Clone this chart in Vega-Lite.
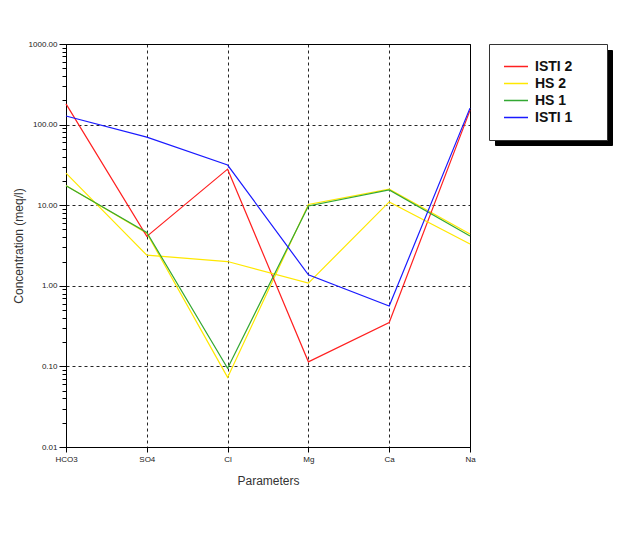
{
  "$schema": "https://vega.github.io/schema/vega-lite/v6.json",
  "autosize": "none",
  "width": 404,
  "height": 403,
  "padding": {"left": 66, "top": 44, "right": 158, "bottom": 86},
  "background": "white",
  "config": {
    "font": "Liberation Sans",
    "view": {"stroke": "black", "strokeWidth": 1},
    "axis": {"domainColor": "black", "tickColor": "black", "tickWidth": 1, "labelColor": "#222", "titleColor": "#333", "titleFontWeight": "normal"}
  },
  "data": {"values": [
    {"param": "HCO3", "series": "HS 2", "line": "HS 2b", "value": 17.6},
    {"param": "SO4", "series": "HS 2", "line": "HS 2b", "value": 4.5},
    {"param": "Cl", "series": "HS 2", "line": "HS 2b", "value": 0.073},
    {"param": "Mg", "series": "HS 2", "line": "HS 2b", "value": 10.2},
    {"param": "Ca", "series": "HS 2", "line": "HS 2b", "value": 15.8},
    {"param": "Na", "series": "HS 2", "line": "HS 2b", "value": 4.4},
    {"param": "HCO3", "series": "ISTI 2", "line": "ISTI 2", "value": 181},
    {"param": "SO4", "series": "ISTI 2", "line": "ISTI 2", "value": 4.1},
    {"param": "Cl", "series": "ISTI 2", "line": "ISTI 2", "value": 28},
    {"param": "Mg", "series": "ISTI 2", "line": "ISTI 2", "value": 0.114},
    {"param": "Ca", "series": "ISTI 2", "line": "ISTI 2", "value": 0.35},
    {"param": "Na", "series": "ISTI 2", "line": "ISTI 2", "value": 150},
    {"param": "HCO3", "series": "HS 2", "line": "HS 2", "value": 25},
    {"param": "SO4", "series": "HS 2", "line": "HS 2", "value": 2.4},
    {"param": "Cl", "series": "HS 2", "line": "HS 2", "value": 2.0},
    {"param": "Mg", "series": "HS 2", "line": "HS 2", "value": 1.08},
    {"param": "Ca", "series": "HS 2", "line": "HS 2", "value": 11.0},
    {"param": "Na", "series": "HS 2", "line": "HS 2", "value": 3.3},
    {"param": "HCO3", "series": "HS 1", "line": "HS 1", "value": 17.4},
    {"param": "SO4", "series": "HS 1", "line": "HS 1", "value": 4.6},
    {"param": "Cl", "series": "HS 1", "line": "HS 1", "value": 0.095},
    {"param": "Mg", "series": "HS 1", "line": "HS 1", "value": 9.8},
    {"param": "Ca", "series": "HS 1", "line": "HS 1", "value": 15.5},
    {"param": "Na", "series": "HS 1", "line": "HS 1", "value": 4.15},
    {"param": "HCO3", "series": "ISTI 1", "line": "ISTI 1", "value": 128},
    {"param": "SO4", "series": "ISTI 1", "line": "ISTI 1", "value": 70},
    {"param": "Cl", "series": "ISTI 1", "line": "ISTI 1", "value": 31.5},
    {"param": "Mg", "series": "ISTI 1", "line": "ISTI 1", "value": 1.37},
    {"param": "Ca", "series": "ISTI 1", "line": "ISTI 1", "value": 0.56},
    {"param": "Na", "series": "ISTI 1", "line": "ISTI 1", "value": 160}
  ]},
  "mark": {"type": "line", "strokeWidth": 1.2},
  "encoding": {
    "x": {
      "field": "param", "type": "nominal",
      "sort": ["HCO3", "SO4", "Cl", "Mg", "Ca", "Na"],
      "scale": {"type": "point", "padding": 0},
      "axis": {
        "title": "Parameters", "titleFontSize": 12, "titlePadding": 12,
        "labelAngle": 0, "labelFontSize": 8, "labelPadding": 3, "tickSize": 5,
        "grid": true, "gridColor": "black", "gridDash": [3, 3], "gridOpacity": 0.85
      }
    },
    "y": {
      "field": "value", "type": "quantitative",
      "scale": {"type": "log", "domain": [0.01, 1000], "nice": false},
      "axis": {
        "title": "Concentration (meq/l)", "titleFontSize": 12, "titlePadding": 3,
        "values": [0.01,0.02,0.03,0.04,0.05,0.06,0.07,0.08,0.09,0.1,0.2,0.3,0.4,0.5,0.6,0.7,0.8,0.9,1,2,3,4,5,6,7,8,9,10,20,30,40,50,60,70,80,90,100,200,300,400,500,600,700,800,900,1000],
        "labelExpr": "abs(log(datum.value)/LN10 - round(log(datum.value)/LN10)) < 0.000001 ? format(datum.value, '.2f') : ''",
        "labelFontSize": 8, "labelPadding": 2,
        "tickSize": {"condition": {"test": "abs(log(datum.value)/LN10 - round(log(datum.value)/LN10)) < 0.000001", "value": 7}, "value": 4},
        "grid": true, "gridColor": "black", "gridDash": [3, 3],
        "gridOpacity": {"condition": {"test": "abs(log(datum.value)/LN10 - round(log(datum.value)/LN10)) < 0.000001", "value": 0.85}, "value": 0}
      }
    },
    "color": {
      "field": "series", "type": "nominal",
      "scale": {"domain": ["ISTI 2", "HS 2", "HS 1", "ISTI 1"], "range": ["#ff2020", "#ffe800", "#33a833", "#1a1aff"]},
      "legend": {
        "title": null, "orient": "none", "legendX": 423, "legendY": 0, "zindex": 2,
        "strokeColor": "#333", "fillColor": "white", "padding": 14,
        "symbolType": "stroke", "symbolSize": 576, "symbolStrokeWidth": 1.5,
        "labelFontSize": 14, "labelFontWeight": "bold", "labelColor": "#111", "labelOffset": 6,
        "labelExpr": "datum.label + '\u2800\u2800'",
        "clipHeight": 17, "rowPadding": 0
      }
    },
    "opacity": {
      "field": "line", "type": "nominal",
      "scale": {"range": [1, 1, 1, 1, 1]},
      "legend": {
        "title": null, "orient": "none", "legendX": 429, "legendY": 6, "zindex": 1,
        "fillColor": "black", "strokeColor": "black", "padding": 0,
        "symbolType": "M-1,-1H10.7V0.82H-1Z", "symbolSize": 400,
        "symbolFillColor": "black", "symbolStrokeColor": "black", "symbolStrokeWidth": 0,
        "labelFontSize": 1, "labelOpacity": 0, "labelOffset": 0,
        "labelExpr": "''",
        "rowPadding": 0
      }
    }
  }
}
